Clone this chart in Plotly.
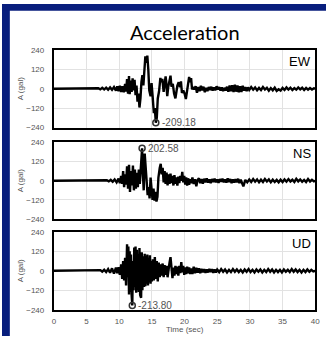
import plotly.graph_objects as go

# ---------------- data ----------------
ew_t = [0, 6.5, 6.8, 7.1, 7.4, 7.7, 8.0, 8.3, 8.6, 8.9, 9.2, 9.5, 9.7, 9.9, 10.1, 10.3, 10.5, 10.7, 10.9,
        11.05, 11.2, 11.35, 11.5, 11.6, 11.75, 11.9, 12.05, 12.2, 12.35, 12.5, 12.65, 12.8, 12.95, 13.1, 13.25,
        13.4, 13.55, 13.7, 13.85, 14.0, 14.15, 14.3, 14.45, 14.6, 14.8, 14.95, 15.1, 15.3, 15.45, 15.6, 15.75,
        15.9, 16.1, 16.3, 16.45, 16.6, 16.8, 16.95, 17.1, 17.2, 17.35, 17.5, 17.7, 17.85, 18.0, 18.2, 18.4,
        18.6, 18.75, 18.9, 19.1, 19.3, 19.45, 19.6, 19.8, 20.0, 20.2, 20.35, 20.5, 20.7, 20.85, 21.0, 21.15,
        21.3, 21.5, 21.7, 21.9, 22.1, 22.3, 22.5, 22.7, 22.9, 23.1, 23.3, 23.5, 23.7, 23.9, 24.1, 24.3, 24.5,
        24.7, 24.9, 25.1, 25.3, 25.5, 25.7, 25.9, 26.1, 26.3, 26.5, 26.7, 26.9, 27.1, 27.3, 27.5, 27.7, 27.9,
        28.1, 28.3, 28.5, 28.7, 28.9, 29.1, 29.3, 29.5, 29.7, 29.9, 30.2, 30.5, 30.8, 31.1, 31.4, 31.7, 32.0,
        32.3, 32.6, 32.9, 33.2, 33.5, 33.8, 34.1, 34.4, 34.7, 35.0, 35.3, 35.6, 35.9, 36.2, 36.5, 36.8, 37.1,
        37.4, 37.7, 38.0, 38.3, 38.6, 38.9, 39.2, 39.5, 39.8, 40]
ew_a = [0, 0, 3, -4, 5, -5, 6, -6, 8, -7, 10, -12, 14, -15, 18, -20, 15, -22, 30,
        -18, 60, -30, 78, -34, 50, -20, 64, -10, 55, -40, 20, -80, -30, -116, -60,
        40, 84, 20, 150, 200, 160, 204, 120, -10, -46, 34, -40, -150, -120, -209.18, -180,
        -60, -16, 66, 40, 60, -20, 50, 76, 40, -46, 10, 40, 80, 12, 30, -30,
        -60, -20, 20, 40, 10, 45, -26, -10, -30, -64, -20, 30, 72, 40, 65, -5,
        10, -5, 15, -25, 10, -15, 18, -10, 12, -22, 5, -15, 10, -8, 12, -12, 8,
        -10, 15, -5, 10, -12, 8, -15, 5, -10, 12, -18, 20, -15, 22, -20, 25, -18,
        20, -22, 15, -20, 18, -12, 10, -15, 8, -8, 10, -6, 8, -10, 5, -8, 10,
        -5, 6, -12, 4, -10, 6, -14, -4, -12, 5, -8, 8, -5, 6, -8, 4, -6,
        8, -4, 6, -8, 5, -6, 4, -5, 3, 0]

ns_t = [0, 7.8, 8.1, 8.4, 8.7, 9.0, 9.3, 9.6, 9.9, 10.1, 10.3, 10.45, 10.6, 10.75, 10.9, 11.05, 11.2, 11.35,
        11.5, 11.65, 11.8, 11.95, 12.1, 12.25, 12.4, 12.55, 12.7, 12.85, 13.0, 13.15, 13.3, 13.5, 13.6, 13.75,
        13.9, 14.05, 14.2, 14.35, 14.5, 14.65, 14.8, 14.95, 15.1, 15.25, 15.4, 15.55, 15.7, 15.85, 16.0, 16.2,
        16.35, 16.5, 16.65, 16.8, 16.95, 17.1, 17.25, 17.4, 17.55, 17.7, 17.85, 18.0, 18.15, 18.3, 18.45, 18.6,
        18.75, 18.9, 19.05, 19.2, 19.35, 19.5, 19.65, 19.8, 19.95, 20.1, 20.25, 20.4, 20.55, 20.7, 20.85, 21.0,
        21.2, 21.4, 21.6, 21.8, 22.0, 22.2, 22.4, 22.6, 22.8, 23.0, 23.2, 23.4, 23.6, 23.8, 24.0, 24.2, 24.4,
        24.6, 24.8, 25.0, 25.2, 25.4, 25.6, 25.8, 26.0, 26.2, 26.4, 26.6, 26.8, 27.0, 27.2, 27.4, 27.6, 27.8,
        28.0, 28.2, 28.4, 28.6, 28.8, 29.0, 29.3, 29.6, 29.9, 30.2, 30.5, 30.8, 31.1, 31.4, 31.7, 32.0, 32.3,
        32.6, 32.9, 33.2, 33.5, 33.8, 34.1, 34.4, 34.7, 35.0, 35.3, 35.6, 35.9, 36.2, 36.5, 36.8, 37.1, 37.4,
        37.7, 38.0, 38.3, 38.6, 38.9, 39.2, 39.5, 39.8, 40]
ns_a = [0, 0, 3, -4, 5, -6, 8, -10, 14, -15, 30, -20, 60, -40, 40, -25, 90, -50,
        100, -70, 60, -30, 95, -60, 70, -50, 50, -40, 70, -20, 120, 202.58, 60, -60,
        170, 80, -30, -90, -40, -110, 20, -80, -120, -50, -125, -70, -130, -100, 20, 80,
        105, 40, 80, -10, 60, -20, 50, -30, 40, -20, 45, -15, 30, -30, 35, -20,
        20, -30, 25, -15, 30, 0, 55, -10, 30, -25, 20, -30, 15, -25, 10, -15,
        20, -20, 10, -35, 5, 15, -15, 10, -18, 12, -10, 15, -12, 8, -15, 10, -8,
        12, -10, 8, -14, 10, -6, 12, -10, 8, -12, 15, -8, 10, -15, 8, -12, 10,
        -10, 12, -15, 6, -20, -35, 5, -10, 8, -8, 10, -6, 8, -10, 6, -8, 10,
        -5, 8, -10, 6, -8, 5, -10, 6, -8, 8, -6, 10, -5, 6, -8, 12, -4,
        8, -6, 5, -8, 10, -5, 6, -4, 0]

ud_t = [0, 6.8, 7.1, 7.4, 7.7, 8.0, 8.3, 8.6, 8.9, 9.2, 9.5, 9.7, 9.9, 10.1, 10.3, 10.45, 10.6, 10.75, 10.9,
        11.05, 11.2, 11.3, 11.4, 11.5, 11.6, 11.7, 11.8, 11.9, 12.0, 12.1, 12.2, 12.3, 12.4, 12.5, 12.6, 12.7,
        12.8, 12.9, 13.0, 13.1, 13.2, 13.35, 13.45, 13.55, 13.65, 13.8, 13.9, 14.0, 14.1, 14.2, 14.3, 14.4,
        14.5, 14.6, 14.7, 14.8, 14.9, 15.0, 15.15, 15.3, 15.45, 15.6, 15.75, 15.9, 16.05, 16.2, 16.35, 16.5,
        16.65, 16.8, 16.95, 17.1, 17.25, 17.4, 17.55, 17.7, 17.85, 18.0, 18.15, 18.3, 18.45, 18.6, 18.75, 18.9,
        19.05, 19.2, 19.35, 19.5, 19.65, 19.8, 19.95, 20.1, 20.25, 20.4, 20.55, 20.7, 20.85, 21.0, 21.2, 21.4,
        21.6, 21.8, 22.0, 22.2, 22.4, 22.6, 22.8, 23.0, 23.2, 23.4, 23.6, 23.8, 24.0, 24.2, 24.4, 24.6, 24.8,
        25.0, 25.3, 25.6, 25.9, 26.2, 26.5, 26.8, 27.1, 27.4, 27.7, 28.0, 28.3, 28.6, 28.9, 29.2, 29.5, 29.8,
        30.1, 30.4, 30.7, 31.0, 31.3, 31.6, 31.9, 32.2, 32.5, 32.8, 33.1, 33.4, 33.7, 34.0, 34.3, 34.6, 34.9,
        35.2, 35.5, 35.8, 36.1, 36.4, 36.7, 37.0, 37.3, 37.6, 37.9, 38.2, 38.5, 38.8, 39.1, 39.4, 39.7, 40]
ud_a = [0, 0, 4, -5, 6, -8, 10, -12, 15, -18, 20, -15, 22, -25, 40, -50, 60, -60, 80,
        -90, 164, -40, 150, -146, 120, -130, 100, -150, -213.80, 60, -120, 144, -100, 150, -136, 130,
        -120, 100, -130, 140, -150, -166, 114, -120, 90, -100, 104, -96, 90, -80, 100, -90,
        80, -70, 96, -80, 60, -66, 70, -60, 84, -50, 60, -66, 50, -40, 40, -30,
        45, -40, 35, -25, 30, -40, 20, 50, 84, 20, -46, 20, -30, 30, -20, 25,
        -30, 30, -15, 54, -10, 30, -25, 20, -20, 25, -15, 20, -20, 15, -20, 25,
        -15, 18, -12, 15, -15, 12, -10, 10, -12, 8, -10, 12, -8, 10, -12, 8, -10,
        8, -8, 10, -6, 8, -10, 6, -8, 10, -6, 8, -8, 6, -10, 8, -6, 10,
        -8, 6, -10, 8, -6, 8, -10, 6, -8, 10, -6, 8, -10, 6, -8, 6, -10,
        8, -6, 6, -8, 10, -6, 8, -8, 6, -10, 6, -8, 8, -6, 6, -4, 0]

components = ["EW", "NS", "UD"]
x_ticks = [0, 5, 10, 15, 20, 25, 30, 35, 40]
y_ticks = [-240, -120, 0, 120, 240]
series = [(ew_t, ew_a), (ns_t, ns_a), (ud_t, ud_a)]

# ---------------- layout ----------------
W, H = 331, 341
NAVY = "rgb(8,30,125)"
x0, x1 = 53 / W, 320 / W
panels_px = [(47, 127), (142, 221), (234, 314)]

fig = go.Figure()
annotations = []
for i, ((t, a), name) in enumerate(zip(series, components)):
    k = "" if i == 0 else str(i + 1)
    fig.add_trace(go.Scatter(x=t, y=a, mode="lines", line=dict(color="black", width=2.4),
                             xaxis="x" + k, yaxis="y" + k, showlegend=False, hoverinfo="skip"))
    # peak marker
    j = max(range(len(a)), key=lambda m: abs(a[m]))
    fig.add_trace(go.Scatter(x=[t[j]], y=[a[j]], mode="markers",
                             marker=dict(symbol="circle-open", size=6, color="#333", line=dict(width=1.5)),
                             xaxis="x" + k, yaxis="y" + k, showlegend=False, hoverinfo="skip"))
    annotations.append(dict(x=t[j], y=a[j], xref="x" + k, yref="y" + k, text=f"{a[j]:.2f}",
                            showarrow=False, xanchor="left", yanchor="middle", xshift=4,
                            font=dict(family="Liberation Sans", size=10, color="#555")))
    top, bot = panels_px[i]
    annotations.append(dict(x=x1 - 2 / W, y=1 - (top + 2) / H, xref="paper", yref="paper", text=name,
                            showarrow=False, xanchor="right", yanchor="top",
                            font=dict(family="Liberation Sans", size=13, color="black")))
    annotations.append(dict(x=19 / W, y=1 - (top + bot) / 2 / H, xref="paper", yref="paper",
                            text="A (gal)", textangle=-90, showarrow=False,
                            xanchor="center", yanchor="middle",
                            font=dict(family="Liberation Sans", size=8, color="#555")))
    axis_common = dict(showline=True, linecolor="black", linewidth=2, mirror=True,
                       showgrid=True, gridcolor="#e2e2e2", gridwidth=1, zeroline=False,
                       tickfont=dict(family="Liberation Sans", size=8, color="#555"))
    fig.layout["xaxis" + k] = dict(domain=[x0, x1], range=[0, 40], tickvals=x_ticks,
                                   showticklabels=(i == 2), anchor="y" + k,
                                   ticklabelstandoff=3, **axis_common)
    fig.layout["yaxis" + k] = dict(domain=[1 - bot / H, 1 - top / H], range=[-240, 240],
                                   tickvals=y_ticks, anchor="x" + k,
                                   ticklabelstandoff=6, **axis_common)

annotations.append(dict(x=187 / W, y=1 - 29 / H, xref="paper", yref="paper", text="Acceleration",
                        showarrow=False, xanchor="center", yanchor="middle",
                        font=dict(family="Lato", size=20, color="black")))
annotations.append(dict(x=(x0 + x1) / 2, y=1 - 334 / H, xref="paper", yref="paper", text="Time (sec)",
                        showarrow=False, xanchor="center", yanchor="middle",
                        font=dict(family="Liberation Sans", size=8, color="#555")))

fig.update_layout(
    width=W, height=H, margin=dict(l=0, r=0, t=0, b=0),
    paper_bgcolor="white", plot_bgcolor="white",
    annotations=annotations,
    shapes=[
        dict(type="rect", xref="paper", yref="paper", x0=0, x1=8 / W, y0=0, y1=1,
             fillcolor=NAVY, line=dict(width=0), layer="above"),
        dict(type="rect", xref="paper", yref="paper", x0=0, x1=1, y0=1 - 7 / H, y1=1,
             fillcolor=NAVY, line=dict(width=0), layer="above"),
    ],
)

fig.write_html("out.html")
